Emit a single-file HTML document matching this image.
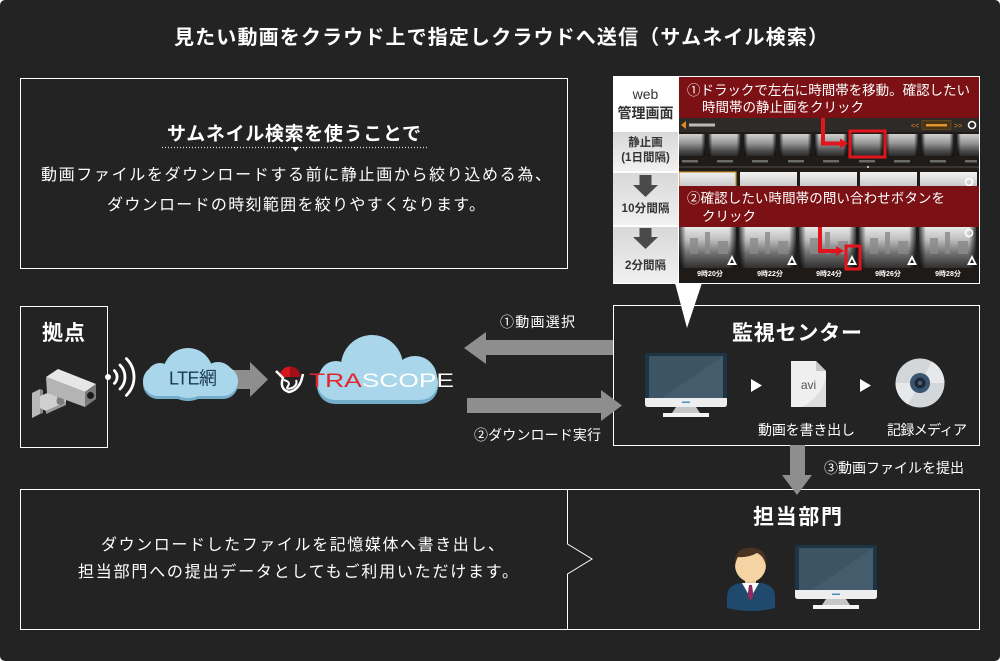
<!DOCTYPE html>
<html><head><meta charset="utf-8">
<style>
html,body{margin:0;padding:0;background:#fff;}
svg{display:block;}
text{font-family:"Liberation Sans","Noto Sans CJK JP",sans-serif;}
</style></head><body>
<svg width="1000" height="661" viewBox="0 0 1000 661" xmlns="http://www.w3.org/2000/svg">
<defs>
 <linearGradient id="cell" x1="0" y1="0" x2="0" y2="1"><stop offset="0" stop-color="#d8d8d8"/><stop offset="1" stop-color="#f1f1f1"/></linearGradient>
 <linearGradient id="th1" x1="0" y1="0" x2="0" y2="1"><stop offset="0" stop-color="#cfcfcf"/><stop offset="0.4" stop-color="#9a9a9a"/><stop offset="0.75" stop-color="#505050"/><stop offset="1" stop-color="#2a2a2a"/></linearGradient>
 <linearGradient id="th2" x1="0" y1="0" x2="0" y2="1"><stop offset="0" stop-color="#f2f2f2"/><stop offset="1" stop-color="#c4c4c4"/></linearGradient>
 <linearGradient id="th3" x1="0" y1="0" x2="0" y2="1"><stop offset="0" stop-color="#e8e8e8"/><stop offset="0.3" stop-color="#c0c0c0"/><stop offset="0.65" stop-color="#6e6e6e"/><stop offset="1" stop-color="#303030"/></linearGradient>
 <linearGradient id="edge" x1="0" y1="0" x2="1" y2="0"><stop offset="0" stop-color="#000" stop-opacity="0.75"/><stop offset="0.12" stop-color="#000" stop-opacity="0"/><stop offset="0.88" stop-color="#000" stop-opacity="0"/><stop offset="1" stop-color="#000" stop-opacity="0.75"/></linearGradient>
 <clipPath id="scr"><rect x="679" y="77" width="300" height="206"/></clipPath>
</defs>

<rect width="1000" height="661" rx="5" fill="#232323"/>

<!-- Title -->
<text x="174" y="44" font-size="20" font-weight="bold" fill="#fff" textLength="654">見たい動画をクラウド上で指定しクラウドへ送信（サムネイル検索）</text>

<!-- Top-left box -->
<rect x="20.5" y="78.5" width="547" height="190" fill="none" stroke="#fff" stroke-width="1"/>
<text x="167" y="140" font-size="19" font-weight="bold" fill="#fff" textLength="254">サムネイル検索を使うことで</text>
<line x1="162" y1="147.5" x2="428" y2="147.5" stroke="#ddd" stroke-width="1.2" stroke-dasharray="1 2"/>
<polygon points="292,147 299,147 295.5,151.5" fill="#fff"/>
<text x="41" y="180" font-size="16" fill="#fff" textLength="510">動画ファイルをダウンロードする前に静止画から絞り込める為、</text>
<text x="107" y="210" font-size="16" fill="#fff" textLength="378">ダウンロードの時刻範囲を絞りやすくなります。</text>

<!-- Web panel -->
<rect x="613" y="76" width="367" height="208" fill="#fff"/>
<rect x="613" y="132" width="65" height="39" fill="url(#cell)"/>
<rect x="613" y="173" width="65" height="52" fill="url(#cell)"/>
<rect x="613" y="227" width="65" height="56" fill="url(#cell)"/>
<text x="645.5" y="99" font-size="14" fill="#333" text-anchor="middle">web</text>
<text x="617.5" y="118" font-size="14" font-weight="bold" fill="#333" textLength="56">管理画面</text>
<text x="645.5" y="146" font-size="11.5" font-weight="bold" fill="#333" text-anchor="middle">静止画</text>
<text x="645.5" y="161" font-size="11.5" font-weight="bold" fill="#333" text-anchor="middle">(1日間隔)</text>
<rect x="639.5" y="175" width="12" height="11" fill="#4a4a4a"/>
<polygon points="633,185 658,185 645.5,197" fill="#4a4a4a"/>
<text x="621.5" y="212" font-size="11.5" font-weight="bold" fill="#333" textLength="48">10分間隔</text>
<rect x="639.5" y="228" width="12" height="10" fill="#4a4a4a"/>
<polygon points="633,237 658,237 645.5,249" fill="#4a4a4a"/>
<text x="625" y="269" font-size="11.5" font-weight="bold" fill="#333" textLength="41">2分間隔</text>

<!-- Screenshot -->
<g clip-path="url(#scr)">
 <rect x="679" y="77" width="300" height="206" fill="#1f1b19"/>
 <!-- toolbar -->
 <rect x="679" y="118" width="300" height="14" fill="#2e2a28"/>
 <polygon points="686,121 681,125 686,129" fill="#e08a1e"/>
 <rect x="689" y="123.5" width="26" height="3" fill="#bbb"/>
 <text x="911" y="128" font-size="7" fill="#e08a1e">&lt;&lt;</text>
 <rect x="922" y="120.5" width="29" height="9" fill="#4a3418" stroke="#6a4a20" stroke-width="0.8"/>
 <rect x="926" y="124" width="21" height="2.5" fill="#e0952a"/>
 <text x="954" y="128" font-size="7" fill="#e08a1e">&gt;&gt;</text>
 <circle cx="972" cy="125" r="3.5" fill="none" stroke="#fff" stroke-width="1.6"/>
 <!-- row1 thumbs -->
 <g>
  <rect x="673" y="134" width="32" height="22" fill="url(#th1)"/><rect x="673" y="134" width="32" height="22" fill="url(#edge)"/>
  <rect x="708.5" y="134" width="32" height="22" fill="url(#th1)"/><rect x="708.5" y="134" width="32" height="22" fill="url(#edge)"/>
  <rect x="744" y="134" width="32" height="22" fill="url(#th1)"/><rect x="744" y="134" width="32" height="22" fill="url(#edge)"/>
  <rect x="779.5" y="134" width="32" height="22" fill="url(#th1)"/><rect x="779.5" y="134" width="32" height="22" fill="url(#edge)"/>
  <rect x="815" y="134" width="32" height="22" fill="url(#th1)"/><rect x="815" y="134" width="32" height="22" fill="url(#edge)"/>
  <rect x="851" y="134" width="32" height="22" fill="url(#th1)"/><rect x="851" y="134" width="32" height="22" fill="url(#edge)"/>
  <rect x="886" y="134" width="32" height="22" fill="url(#th1)"/><rect x="886" y="134" width="32" height="22" fill="url(#edge)"/>
  <rect x="921.5" y="134" width="32" height="22" fill="url(#th1)"/><rect x="921.5" y="134" width="32" height="22" fill="url(#edge)"/>
  <rect x="957" y="134" width="32" height="22" fill="url(#th1)"/><rect x="957" y="134" width="32" height="22" fill="url(#edge)"/>
 </g>
 <g fill="#6a6a6a">
  <rect x="682" y="160" width="16" height="2.5"/><rect x="717" y="160" width="16" height="2.5"/><rect x="752" y="160" width="16" height="2.5"/>
  <rect x="788" y="160" width="16" height="2.5"/><rect x="823" y="160" width="16" height="2.5"/><rect x="859" y="160" width="16" height="2.5"/>
  <rect x="894" y="160" width="16" height="2.5"/><rect x="930" y="160" width="16" height="2.5"/><rect x="965" y="160" width="12" height="2.5"/>
 </g>
 <rect x="679" y="166" width="300" height="2" fill="#3a3532"/>
 <circle cx="868" cy="167" r="1.2" fill="#bbb"/>
 <!-- row2 thumbs -->
 <rect x="679" y="172" width="57" height="16" fill="url(#th2)" stroke="#c9902a" stroke-width="1.2"/>
 <rect x="740" y="172" width="57" height="16" fill="url(#th2)"/>
 <rect x="800" y="172" width="57" height="16" fill="url(#th2)"/>
 <rect x="860" y="172" width="57" height="16" fill="url(#th2)"/>
 <rect x="920" y="172" width="57" height="16" fill="url(#th2)"/>
 <!-- row3 thumbs -->
 <g>
  <rect x="679" y="227" width="57" height="41" fill="url(#th3)"/><rect x="679" y="227" width="57" height="41" fill="url(#edge)"/>
  <rect x="739" y="227" width="57" height="41" fill="url(#th3)"/><rect x="739" y="227" width="57" height="41" fill="url(#edge)"/>
  <rect x="799" y="227" width="57" height="41" fill="url(#th3)"/><rect x="799" y="227" width="57" height="41" fill="url(#edge)"/>
  <rect x="859" y="227" width="57" height="41" fill="url(#th3)"/><rect x="859" y="227" width="57" height="41" fill="url(#edge)"/>
  <rect x="919" y="227" width="57" height="41" fill="url(#th3)"/><rect x="919" y="227" width="57" height="41" fill="url(#edge)"/>
 </g>
 <g fill="#8a8a8a" opacity="0.8">
  <rect x="690" y="238" width="8" height="16"/><rect x="705" y="232" width="5" height="22"/><rect x="718" y="241" width="10" height="13"/>
  <rect x="750" y="238" width="8" height="16"/><rect x="765" y="232" width="5" height="22"/><rect x="778" y="241" width="10" height="13"/>
  <rect x="810" y="238" width="8" height="16"/><rect x="825" y="232" width="5" height="22"/><rect x="838" y="241" width="10" height="13"/>
  <rect x="870" y="238" width="8" height="16"/><rect x="885" y="232" width="5" height="22"/><rect x="898" y="241" width="10" height="13"/>
  <rect x="930" y="238" width="8" height="16"/><rect x="945" y="232" width="5" height="22"/><rect x="958" y="241" width="10" height="13"/>
 </g>
 <g fill="#fff">
  <polygon points="727,265 737,265 732,255"/><polygon points="787,265 797,265 792,255"/><polygon points="847,265 857,265 852,255"/>
  <polygon points="907,265 917,265 912,255"/><polygon points="967,265 977,265 972,255"/>
 </g>
 <g fill="#222">
  <polygon points="730,263 734,263 732,259"/><polygon points="790,263 794,263 792,259"/><polygon points="850,263 854,263 852,259"/>
  <polygon points="910,263 914,263 912,259"/><polygon points="970,263 974,263 972,259"/>
 </g>
 <rect x="679" y="268" width="300" height="15" fill="#1e1a18"/>
 <g font-size="7" font-weight="bold" fill="#fff" text-anchor="middle">
  <text x="710" y="276">9時20分</text><text x="770" y="276">9時22分</text><text x="829" y="276">9時24分</text>
  <text x="888" y="276">9時26分</text><text x="948" y="276">9時28分</text>
 </g>
 <circle cx="969" cy="182" r="3.5" fill="none" stroke="#fff" stroke-width="1.6"/>
 <circle cx="969" cy="233" r="3.5" fill="none" stroke="#fff" stroke-width="1.6"/>
 <!-- banners -->
 <rect x="679" y="77" width="300" height="41" fill="#7b1115"/>
 <text x="687" y="95" font-size="13.5" fill="#fff" textLength="283">①ドラックで左右に時間帯を移動。確認したい</text>
 <text x="702" y="112" font-size="13.5" fill="#fff" textLength="162">時間帯の静止画をクリック</text>
 <rect x="679" y="186" width="300" height="41" fill="#7b1115"/>
 <text x="687" y="203" font-size="13.5" fill="#fff" textLength="258">②確認したい時間帯の問い合わせボタンを</text>
 <text x="702" y="221" font-size="13.5" fill="#fff" textLength="54">クリック</text>
 <!-- red highlights -->
 <rect x="850" y="131" width="35" height="26" fill="none" stroke="#e3141c" stroke-width="3"/>
 <path d="M823,118 V143.5 H842" fill="none" stroke="#e3141c" stroke-width="4"/>
 <polygon points="840,138.5 848,143.5 840,148.5" fill="#e3141c"/>
 <rect x="846" y="246" width="14" height="23" fill="none" stroke="#e3141c" stroke-width="3"/>
 <path d="M820,227 V251 H838" fill="none" stroke="#e3141c" stroke-width="4"/>
 <polygon points="836,246 844,251 836,256" fill="#e3141c"/>
</g>
<!-- pointer -->
<polygon points="675,283 702,283 687,328" fill="#fff"/>

<!-- 拠点 box -->
<rect x="20.5" y="306.5" width="87" height="141" fill="none" stroke="#fff" stroke-width="1"/>
<text x="42" y="340" font-size="21" font-weight="bold" fill="#fff" textLength="43">拠点</text>
<!-- camera -->
<polygon points="32,393 40,389 40,414 32,418" fill="#b8b8b8"/>
<polygon points="40,389 43,390 43,413 40,414" fill="#8a8a8a"/>
<polygon points="40,396 60,388 66,392 66,402 46,411 40,408" fill="#cfcfcf"/>
<polygon points="46,411 66,402 66,405 46,414" fill="#9a9a9a"/>
<rect x="57" y="392" width="7" height="12" fill="#9a9a9a"/>
<circle cx="60.5" cy="401" r="4" fill="#7d7d7d"/>
<polygon points="46,377 58,369 96,384 85,392" fill="#e6e6e6"/>
<polygon points="46,377 85,392 85,407 47,393" fill="#b4b4b4"/>
<polygon points="85,392 96,384 96,399 85,407" fill="#7a7a7a"/>
<circle cx="90.5" cy="395.5" r="3.5" fill="#1a1a1a"/>
<!-- wifi -->
<circle cx="108" cy="377" r="3" fill="#fff"/>
<g fill="none" stroke="#fff" stroke-width="2.8" stroke-linecap="round">
 <path d="M114.4,370.6 A9,9 0 0 1 114.4,383.4"/>
 <path d="M120,365 A17,17 0 0 1 120,389"/>
 <path d="M126.4,358.6 A26,26 0 0 1 126.4,395.4"/>
</g>

<!-- arrow to logo -->
<rect x="232" y="370" width="20" height="19" fill="#8e8e8e"/>
<polygon points="250,362 250,397 268,379.5" fill="#8e8e8e"/>

<!-- LTE cloud -->
<g fill="#74aecb" transform="translate(0,3)">
 <rect x="143" y="366" width="95" height="30" rx="15"/>
 <circle cx="188" cy="373" r="25"/><circle cx="160" cy="376" r="13"/><circle cx="218" cy="378" r="16"/>
</g>
<g fill="#a9d6ea">
 <rect x="143" y="366" width="95" height="30" rx="15"/>
 <circle cx="188" cy="373" r="25"/><circle cx="160" cy="376" r="13"/><circle cx="218" cy="378" r="16"/>
</g>
<text x="169" y="384.5" font-size="18" fill="#1b3a52" textLength="48">LTE網</text>

<!-- Trascope cloud -->
<g fill="#74aecb" transform="translate(0,4)">
 <rect x="317" y="364" width="121" height="36" rx="18"/>
 <circle cx="372" cy="366" r="31"/><circle cx="336" cy="378" r="17"/><circle cx="415" cy="378" r="22"/>
</g>
<g fill="#a9d6ea">
 <rect x="317" y="364" width="121" height="36" rx="18"/>
 <circle cx="372" cy="366" r="31"/><circle cx="336" cy="378" r="17"/><circle cx="415" cy="378" r="22"/>
</g>
<!-- logo icon -->
<path d="M279.5,377 A10.5,10.5 0 0 1 300.5,377 Z" fill="#d4161e"/>
<path d="M290,366.5 A10.5,10.5 0 0 1 300.5,377 H290 Z" fill="#a30f16"/>
<path d="M276,371 L283,378 Q279,389 289,392 Q299,390 302,378 L303,374" stroke="#fff" stroke-width="2.5" fill="none"/>
<path d="M284,380 Q291,382 288,386 Q285,390 292,388 Q298,385 296,380" stroke="#fff" stroke-width="2" fill="none"/>
<text x="309" y="387" font-size="19.5" fill="#fff" textLength="145" lengthAdjust="spacingAndGlyphs"><tspan fill="#e0252d">TRA</tspan>SCOPE</text>

<!-- arrows between -->
<polygon points="613,340 486,340 486,332 464,348 486,364 486,355 613,355" fill="#8e8e8e"/>
<text x="500" y="327" font-size="14" fill="#fff" textLength="75">①動画選択</text>
<text x="474" y="440" font-size="14" fill="#fff" textLength="127">②ダウンロード実行</text>

<!-- 監視センター -->
<rect x="613.5" y="305.5" width="366" height="140" fill="none" stroke="#fff" stroke-width="1"/>
<polygon points="467,398 601,398 601,390 622,405.5 601,421 601,413 467,413" fill="#8e8e8e"/>
<text x="732" y="340" font-size="21" font-weight="bold" fill="#fff" textLength="130">監視センター</text>
<g>
 <rect x="645" y="353" width="82" height="50" rx="2" fill="#1c3444"/>
 <rect x="649" y="356" width="74" height="42" fill="#3d5464"/>
 <polygon points="723,356 723,398 662,398" fill="#445c6c"/>
 <path d="M645,398 H727 V404 Q727,407 724,407 H648 Q645,407 645,404 Z" fill="#eeeeee"/>
 <rect x="682" y="401.5" width="8" height="1.5" fill="#4a8fc0"/>
 <polygon points="676,407 696,407 700,413 672,413" fill="#c6c6c6"/>
 <rect x="663" y="413" width="46" height="4" fill="#f4f4f4"/>
</g>
<polygon points="751,379 751,392 762,385.5" fill="#fff"/>
<path d="M791,361 H816 L826,371 V407 H791 Z" fill="#efefef"/>
<path d="M826,378 V407 H802 Q820,398 826,378 Z" fill="#dedede"/>
<polygon points="816,361 816,371 826,371" fill="#c8c8c8"/>
<text x="808.5" y="389" font-size="12" fill="#555" text-anchor="middle">avi</text>
<polygon points="860,379 860,392 871,385.5" fill="#fff"/>
<circle cx="920" cy="383" r="24.5" fill="#d4d7da"/>
<path d="M920,383 L944.5,383 A24.5,24.5 0 0 0 932,361.6 Z" fill="#e6e8ea"/>
<path d="M920,383 L895.5,383 A24.5,24.5 0 0 0 908,404.4 Z" fill="#e6e8ea"/>
<circle cx="920" cy="383" r="10" fill="#3a5570"/>
<circle cx="920" cy="383" r="5.5" fill="#1d2a37"/>
<circle cx="920" cy="383" r="2" fill="#556070"/>
<text x="758" y="435" font-size="14" fill="#fff" textLength="97">動画を書き出し</text>
<text x="887" y="435" font-size="14" fill="#fff" textLength="80">記録メディア</text>

<!-- bottom box -->
<rect x="20.5" y="489.5" width="959" height="140" fill="none" stroke="#fff" stroke-width="1"/>
<polyline points="567.5,489.5 567.5,544 592,559 567.5,574 567.5,629.5" fill="none" stroke="#fff" stroke-width="1"/>
<rect x="790" y="445" width="15" height="31" fill="#8e8e8e"/>
<polygon points="782,475 812,475 797,495" fill="#8e8e8e"/>
<text x="824" y="473" font-size="14" fill="#fff" textLength="140">③動画ファイルを提出</text>
<text x="101" y="550" font-size="16" fill="#fff" textLength="403">ダウンロードしたファイルを記憶媒体へ書き出し、</text>
<text x="78" y="577" font-size="16" fill="#fff" textLength="440">担当部門への提出データとしてもご利用いただけます。</text>
<text x="753" y="524" font-size="21" font-weight="bold" fill="#fff" textLength="89">担当部門</text>
<!-- person -->
<path d="M727,608 V597 Q727,585 741,583 H761 Q775,585 775,597 V608 Q751,614 727,608 Z" fill="#1f4a6e"/>
<rect x="745" y="576" width="11" height="8" fill="#e6bf8e"/>
<polygon points="742,583 759,583 750.5,598" fill="#fff"/>
<polygon points="749,585 752,585 753.5,596 750.5,601 747.5,596" fill="#8e2c62"/>
<ellipse cx="750.5" cy="565" rx="15.5" ry="17" fill="#f6d3a2"/>
<path d="M735,566 Q733,548 750.5,547.5 Q768,548 766,566 Q764,556 757,553 Q748,558 738,557 Q736,560 735,566 Z" fill="#4a3322"/>
<!-- monitor 2 -->
<g transform="translate(150,192)">
 <rect x="645" y="353" width="82" height="50" rx="2" fill="#1c3444"/>
 <rect x="649" y="356" width="74" height="42" fill="#3d5464"/>
 <polygon points="723,356 723,398 662,398" fill="#445c6c"/>
 <path d="M645,398 H727 V404 Q727,407 724,407 H648 Q645,407 645,404 Z" fill="#eeeeee"/>
 <rect x="682" y="401.5" width="8" height="1.5" fill="#4a8fc0"/>
 <polygon points="676,407 696,407 700,413 672,413" fill="#c6c6c6"/>
 <rect x="663" y="413" width="46" height="4" fill="#f4f4f4"/>
</g>
</svg>
</body></html>
